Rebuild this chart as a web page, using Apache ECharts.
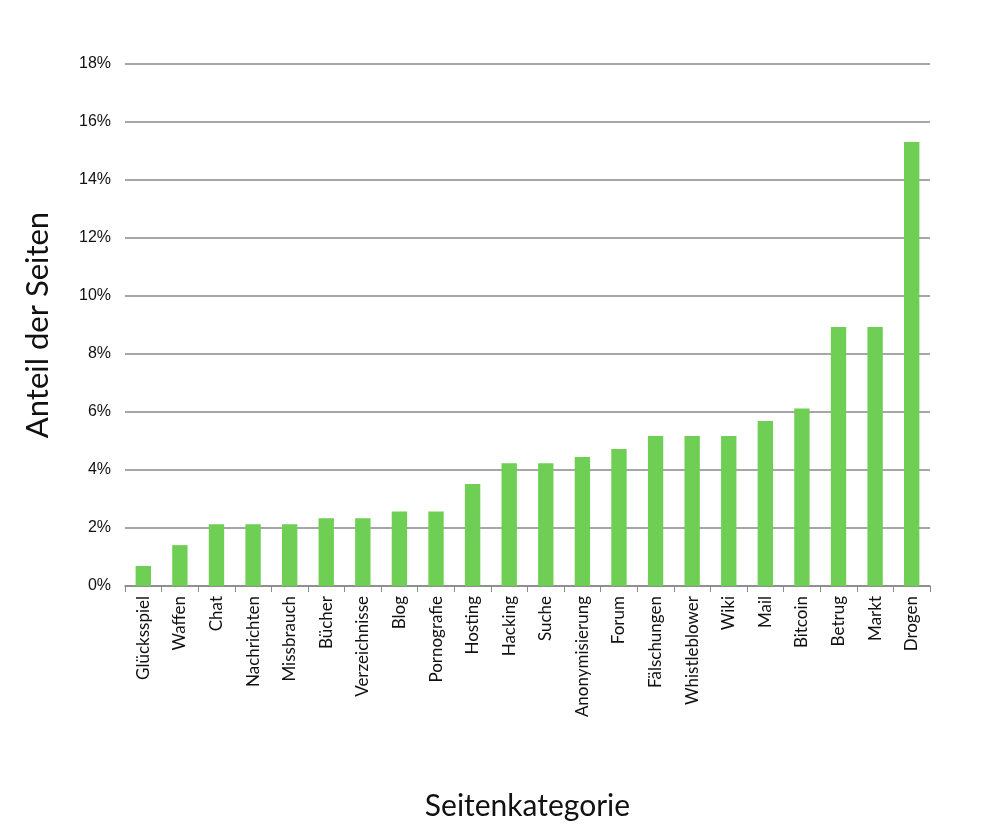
<!DOCTYPE html>
<html><head><meta charset="utf-8">
<script src="https://cdn.jsdelivr.net/npm/echarts@6/dist/echarts.min.js"></script>
<style>html,body{margin:0;padding:0;background:#fff}#c{width:983px;height:833px}</style>
</head><body><div id="c"></div>
<script>
const categories=["Glücksspiel","Waffen","Chat","Nachrichten","Missbrauch","Bücher","Verzeichnisse","Blog","Pornografie","Hosting","Hacking","Suche","Anonymisierung","Forum","Fälschungen","Whistleblower","Wiki","Mail","Bitcoin","Betrug","Markt","Drogen"];
const shares=[0.69,1.41,2.13,2.13,2.13,2.34,2.34,2.57,2.57,3.52,4.23,4.23,4.45,4.72,5.17,5.17,5.17,5.69,6.12,8.93,8.93,15.31];
const chart=echarts.init(document.getElementById('c'));
chart.setOption({
  animation:false,
  grid:{left:125,right:53,top:64,bottom:247},
  xAxis:{type:'category',data:categories,
    axisLine:{lineStyle:{color:'#888',width:1.5}},axisTick:{show:true,length:6,lineStyle:{color:'#888'}},
    axisLabel:{rotate:90,interval:0,color:'#111',fontSize:17,fontFamily:'Lato',margin:10},
    name:'Seitenkategorie',nameLocation:'middle',nameGap:205,nameTextStyle:{fontSize:30,color:'#111',fontFamily:'Lato'}},
  yAxis:{type:'value',min:0,max:18,interval:2,
    axisLabel:{formatter:'{value}%',color:'#111',fontSize:16,fontFamily:'Liberation Sans',margin:14},
    axisLine:{show:false},axisTick:{show:false},
    splitLine:{lineStyle:{color:'#888',width:1.5}},
    name:'Anteil der Seiten',nameLocation:'middle',nameGap:72,nameTextStyle:{fontSize:31,color:'#111',fontFamily:'Lato'}},
  series:[{type:'bar',data:shares,barWidth:'42%',itemStyle:{color:'#6fcf55'}}]
});
</script></body></html>
